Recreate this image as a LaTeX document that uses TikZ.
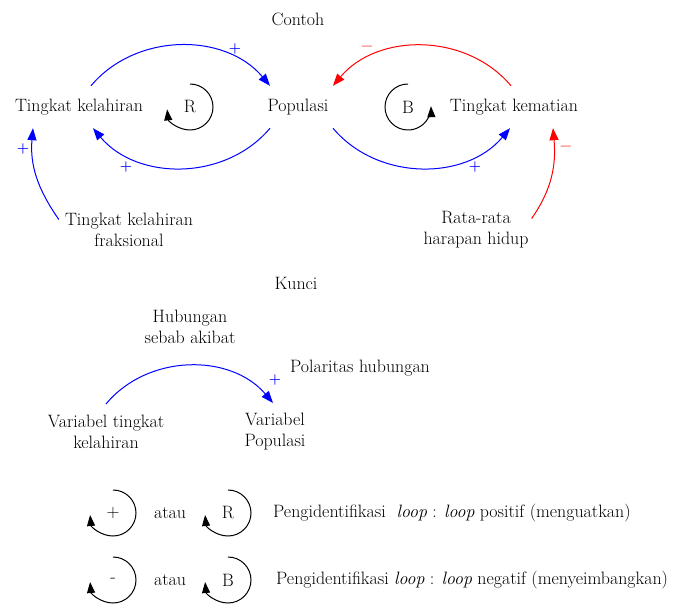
\documentclass[tikz,border=0pt]{standalone}
\usepackage{fontspec}
\usetikzlibrary{positioning, arrows.meta}
\definecolor{biru}{RGB}{0,0,255}
\definecolor{merah}{RGB}{255,0,0}

\begin{document}
\begin{tikzpicture}[
			x=1pt, y=1pt,
			var/.style = {
				font=\fontsize{17.9}{21}\selectfont,
				align=center,
				inner sep=2pt,
				minimum height=42pt
			},
			teks/.style = {
				font=\fontsize{17.9}{21}\selectfont,
				align=center,
				inner sep=2pt
			},
			tanda/.style = {font=\bfseries\fontsize{14}{14}\selectfont, inner sep=0pt},
			kurang/.style = {font=\bfseries\fontsize{18}{18}\selectfont, inner sep=0pt},
			panah/.style = {-{Triangle[length=12pt,width=9pt]}, line width=1pt},
			putar/.style = {-{Triangle[length=11pt,width=8pt]}, line width=1pt, black}
			]
			
			\useasboundingbox (0,0) rectangle (673,-604);
			
			\node[teks] (contoh) at (298,-19) {Contoh};
			
			\node[var] (populasi) at (298,-107) {Populasi};
			\node[var] (lahir) at (79,-107) {Tingkat kelahiran};
			\node[var] (mati) at (514,-107) {Tingkat kematian};
			\node[teks] (fraksi) at (129,-229.5) {Tingkat kelahiran\\fraksional};
			\node[teks] (harapan) at (476,-229.5) {Rata-rata\\harapan hidup};
			
			\draw[panah, biru] ([xshift=12pt]lahir.north) to[bend left=50] ([xshift=-28pt]populasi.north);
			\draw[panah, biru] ([xshift=-28pt]populasi.south) to[bend left=50] ([xshift=14pt]lahir.south);
			\draw[panah, merah] ([xshift=-3pt]mati.north) to[bend right=50] ([xshift=35pt]populasi.north);
			\draw[panah, biru] ([xshift=35pt]populasi.south) to[bend right=50] ([xshift=-4pt]mati.south);
			\draw[panah, biru] ([shift={(-4pt,10pt)}]fraksi.west) to[out=125,in=-95] ([xshift=-46pt]lahir.south);
			\draw[panah, merah] ([shift={(1pt,11pt)}]harapan.east) to[out=55,in=-85] ([xshift=39pt]mati.south);
			
			\node[tanda, biru] (plus1) at (235,-49) {+};
			\node[tanda, biru] (plus2) at (126,-167) {+};
			\node[kurang, merah] (minus1) at (367,-49) {–};
			\node[tanda, biru] (plus3) at (475,-167) {+};
			\node[tanda, biru] (plus4) at (23,-149) {+};
			\node[kurang, merah] (minus2) at (566,-149) {–};
			
			\node[teks] (loopR) at (190,-107) {R};
			\draw[putar] ([yshift=23pt]loopR.center) arc[start angle=90, end angle=-174, radius=23];
			\node[teks] (loopB) at (408,-107) {B};
			\draw[putar] ([yshift=23pt]loopB.center) arc[start angle=90, end angle=362, radius=23];
			
			\node[teks] (kunci) at (296,-283) {Kunci};
			\node[teks] (hubungan) at (190,-327) {Hubungan\\sebab akibat};
			\node[teks] (polaritas) at (360,-368) {Polaritas hubungan};
			\node[teks] (varlahir) at (106,-431.5) {Variabel tingkat\\kelahiran};
			\node[teks] (varpop) at (275,-431.5) {Variabel\\Populasi};
			
			\draw[panah, biru] ([yshift=27.5pt]varlahir.center) to[bend left=50] ([shift={(-2pt,28.5pt)}]varpop.center);
			\node[tanda, biru] (plus5) at (275,-380) {+};
			
			\node[teks] (lupplus) at (113,-513) {+};
			\draw[putar] ([yshift=23pt]lupplus.center) arc[start angle=90, end angle=-175, radius=23];
			\node[teks] (atau1) at (170,-513) {atau};
			\node[teks] (lupR) at (228,-513) {R};
			\draw[putar] ([yshift=23pt]lupR.center) arc[start angle=90, end angle=-175, radius=23];
			\node[teks, anchor=west] (ket1) at (271,-513) {Pengidentifikasi\ \ \textit{loop} : \textit{loop} positif (menguatkan)};
			
			\node[teks] (lupminus) at (113,-580) {-};
			\draw[putar] ([yshift=23pt]lupminus.center) arc[start angle=90, end angle=-175, radius=23];
			\node[teks] (atau2) at (170,-580) {atau};
			\node[teks] (lupB) at (228,-580) {B};
			\draw[putar] ([yshift=23pt]lupB.center) arc[start angle=90, end angle=-175, radius=23];
			\node[teks, anchor=west] (ket2) at (274,-580) {Pengidentifikasi \textit{loop} : \textit{loop} negatif (menyeimbangkan)};
			
		\end{tikzpicture}
\end{document}
